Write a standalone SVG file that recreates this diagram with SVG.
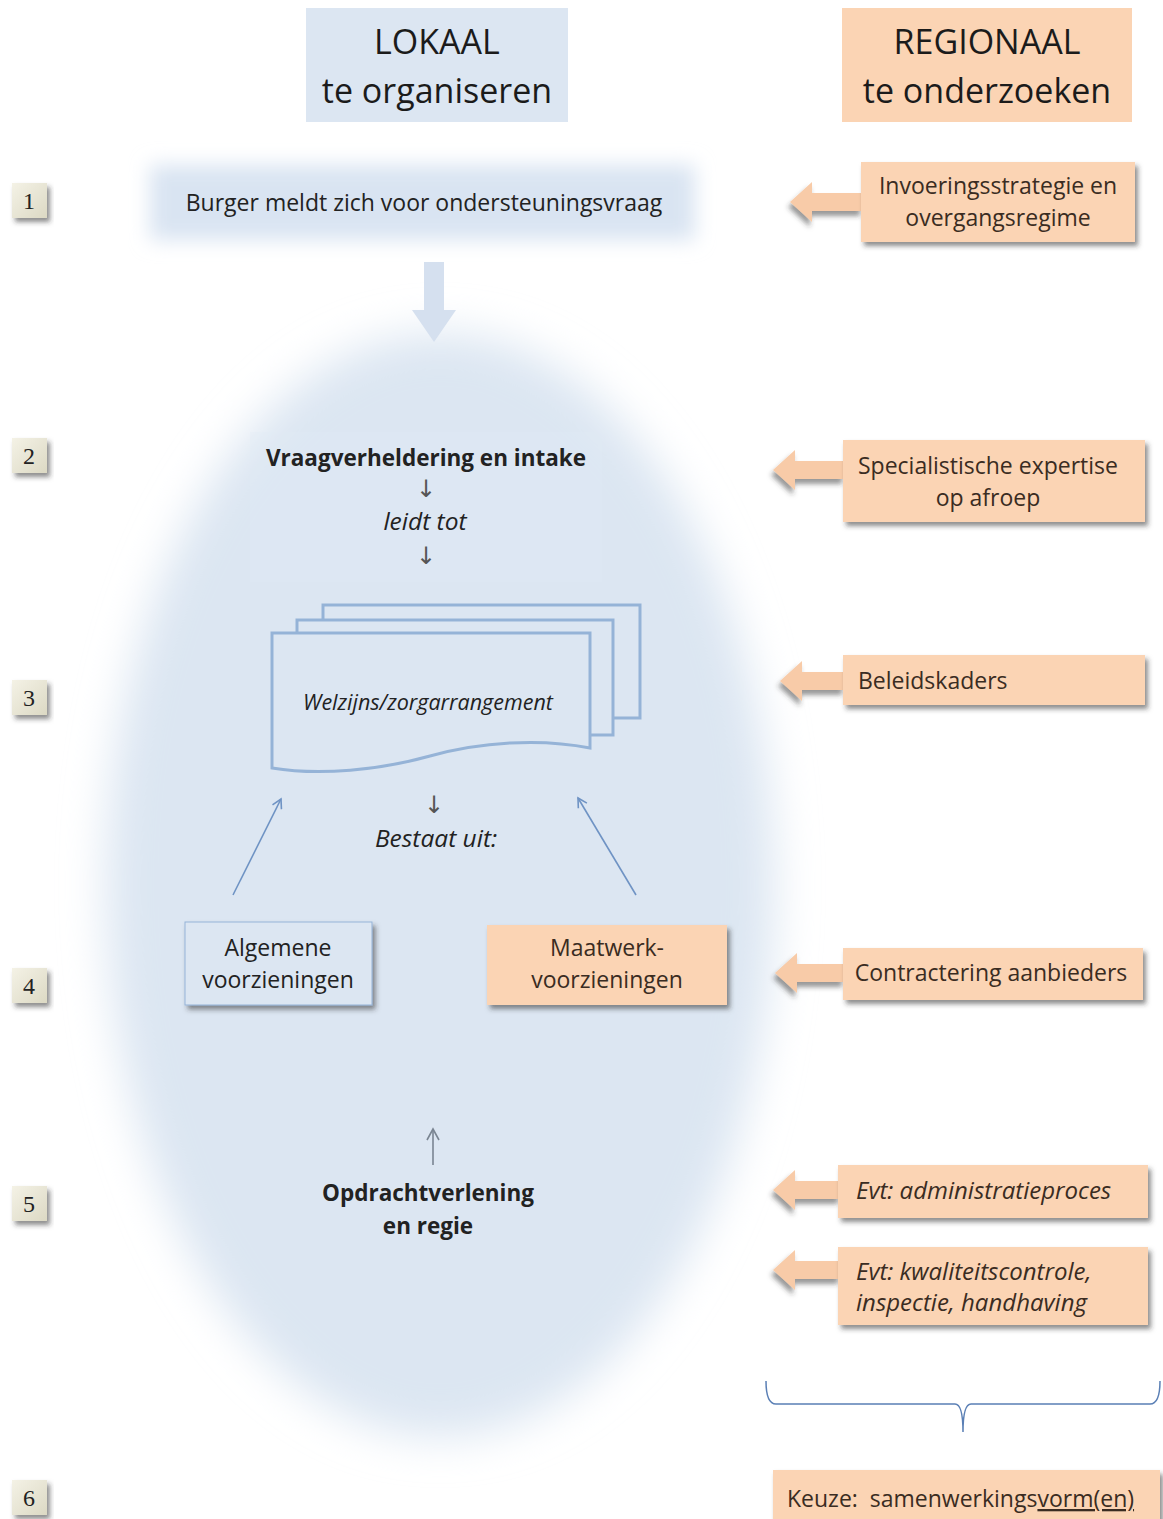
<svg xmlns="http://www.w3.org/2000/svg" width="1163" height="1519" viewBox="0 0 1163 1519">
<defs>
<style>
text{font-family:"Open Sans",Lato,"Liberation Sans",sans-serif;}
.hdr{font-size:34px;fill:#1b1b1b;text-anchor:middle;}
.t{font-size:23px;fill:#222;}
.c{text-anchor:middle;}
.b{font-weight:bold;font-size:22.5px;}
.i{font-style:italic;}
.mi{font-size:24.5px;}
.br{font-size:23px;fill:#3a2c22;}
.bri{font-size:24px;}
.ar{font-family:"DejaVu Sans",sans-serif;font-size:24px;fill:#555;text-anchor:middle;}
.num{font-family:"Liberation Serif","DejaVu Serif",serif;font-size:24px;fill:#222;text-anchor:middle;}
.peach{fill:#fbd4b4;}
.parr{fill:#f8cba8;}
.conn{stroke:#6f93c4;stroke-width:1.6;fill:none;}
</style>
<filter id="blurBig" x="-20%" y="-20%" width="140%" height="140%"><feGaussianBlur stdDeviation="22"/></filter>
<filter id="blurSm" x="-20%" y="-50%" width="140%" height="200%"><feGaussianBlur stdDeviation="10"/></filter>
<filter id="sh" x="-10%" y="-20%" width="130%" height="160%"><feDropShadow dx="3" dy="4" stdDeviation="2.5" flood-color="#333" flood-opacity="0.55"/></filter>
<filter id="shA" x="-20%" y="-30%" width="150%" height="170%"><feDropShadow dx="-2" dy="5" stdDeviation="2.5" flood-color="#333" flood-opacity="0.5"/></filter>
<linearGradient id="ng" x1="0" y1="0" x2="1" y2="1"><stop offset="0" stop-color="#f4f2e6"/><stop offset="1" stop-color="#dcd9c4"/></linearGradient>
<marker id="oh" viewBox="0 0 12 12" refX="10" refY="6" markerWidth="12" markerHeight="12" markerUnits="userSpaceOnUse" orient="auto"><path d="M1,1 L10,6 L1,11" fill="none" stroke="#6f93c4" stroke-width="1.6"/></marker>
<marker id="ohg" viewBox="0 0 14 14" refX="12" refY="7" markerWidth="14" markerHeight="14" markerUnits="userSpaceOnUse" orient="auto"><path d="M1,1 L12,7 L1,13" fill="none" stroke="#7a8592" stroke-width="1.6"/></marker>
</defs>
<rect width="1163" height="1519" fill="#ffffff"/>

<!-- background shapes -->
<ellipse cx="440" cy="885" rx="334" ry="552" fill="#dce6f2" filter="url(#blurBig)"/>
<rect x="250" y="432" width="352" height="150" fill="#e2eaf5" opacity="0.3"/>

<g id="hdr-lokaal">
<rect x="306" y="8" width="262" height="114" fill="#dce6f2"/>
<text class="hdr" x="437" y="54">LOKAAL</text>
<text class="hdr" x="437" y="103">te organiseren</text>
</g>
<g id="hdr-regionaal">
<rect x="842" y="8" width="290" height="114" class="peach"/>
<text class="hdr" x="987" y="54">REGIONAAL</text>
<text class="hdr" x="987" y="103">te onderzoeken</text>
</g>

<!-- step numbers -->
<g id="n1"><rect x="12" y="183" width="35" height="35" fill="url(#ng)" filter="url(#sh)"/><text class="num" x="29" y="209">1</text></g>
<g id="n2"><rect x="12" y="438" width="35" height="35" fill="url(#ng)" filter="url(#sh)"/><text class="num" x="29" y="464">2</text></g>
<g id="n3"><rect x="12" y="680" width="35" height="35" fill="url(#ng)" filter="url(#sh)"/><text class="num" x="29" y="706">3</text></g>
<g id="n4"><rect x="12" y="968" width="35" height="35" fill="url(#ng)" filter="url(#sh)"/><text class="num" x="29" y="994">4</text></g>
<g id="n5"><rect x="12" y="1186" width="35" height="35" fill="url(#ng)" filter="url(#sh)"/><text class="num" x="29" y="1212">5</text></g>
<g id="n6"><rect x="12" y="1480" width="35" height="35" fill="url(#ng)" filter="url(#sh)"/><text class="num" x="29" y="1506">6</text></g>

<g id="burger">
<rect x="150" y="165" width="545" height="75" fill="#d9e4f2" filter="url(#blurSm)"/>
<text class="t c" x="424" y="211">Burger meldt zich voor ondersteuningsvraag</text>
</g>

<g id="bigarrow">
<path d="M424,262 H444 V310 H456 L434,342 L412,310 H424 Z" fill="#d5e0ef"/>
</g>

<g id="intake">
<text class="t c b" x="426" y="466">Vraagverheldering en intake</text>
<text class="ar" x="426" y="497">↓</text>
<text class="t c i mi" x="425" y="530">leidt tot</text>
<text class="ar" x="426" y="564">↓</text>
</g>

<g id="arrangement" fill="#dce6f2" stroke="#95b3d7" stroke-width="3">
<rect x="323" y="605" width="317" height="113"/>
<rect x="297" y="620" width="316" height="115"/>
<path d="M272,633 H590 V748 C540,738 480,742 430,756 C380,770 320,776 272,768 Z"/>
<text class="t c i" x="428" y="710" stroke="none" fill="#222" style="font-size:21.5px">Welzijns/zorgarrangement</text>
</g>

<g id="bestaat">
<text class="ar" x="434" y="813">↓</text>
<text class="t c i mi" x="436" y="847">Bestaat uit:</text>
</g>

<g id="algemeen">
<rect x="185" y="922" width="187" height="83" fill="#dce6f2" stroke="#95b3d7" stroke-width="1" filter="url(#sh)"/>
<text class="t c" x="278" y="956">Algemene</text>
<text class="t c" x="278" y="988">voorzieningen</text>
</g>
<g id="maatwerk">
<rect x="487" y="925" width="240" height="80" class="peach" filter="url(#sh)"/>
<text class="br c" x="607" y="956">Maatwerk-</text>
<text class="br c" x="607" y="988">voorzieningen</text>
</g>

<g id="opdracht">
<text class="t c b" x="428" y="1201">Opdrachtverlening</text>
<text class="t c b" x="428" y="1234">en regie</text>
</g>

<!-- regional items -->
<g id="r1">
<path class="parr" d="M790,202 L812,182 V193 H862 V211 H812 V222 Z" filter="url(#shA)"/>
<rect x="861" y="162" width="274" height="80" class="peach" filter="url(#sh)"/>
<text class="br c" x="998" y="194">Invoeringsstrategie en</text>
<text class="br c" x="998" y="226">overgangsregime</text>
</g>
<g id="r2">
<path class="parr" d="M773,470 L795,450 V461 H844 V479 H795 V490 Z" filter="url(#shA)"/>
<rect x="843" y="440" width="302" height="82" class="peach" filter="url(#sh)"/>
<text class="br c" x="988" y="474">Specialistische expertise</text>
<text class="br c" x="988" y="506">op afroep</text>
</g>
<g id="r3">
<path class="parr" d="M780,681 L802,661 V672 H844 V690 H802 V701 Z" filter="url(#shA)"/>
<rect x="843" y="655" width="302" height="50" class="peach" filter="url(#sh)"/>
<text class="br" x="858" y="689">Beleidskaders</text>
</g>
<g id="r4">
<path class="parr" d="M775,973 L797,953 V964 H844 V982 H797 V993 Z" filter="url(#shA)"/>
<rect x="843" y="948" width="300" height="52" class="peach" filter="url(#sh)"/>
<text class="br c" x="991" y="981">Contractering aanbieders</text>
</g>
<g id="r5">
<path class="parr" d="M773,1190 L795,1170 V1181 H840 V1199 H795 V1210 Z" filter="url(#shA)"/>
<rect x="838" y="1165" width="310" height="53" class="peach" filter="url(#sh)"/>
<text class="br i bri" x="856" y="1199">Evt: administratieproces</text>
</g>
<g id="r6">
<path class="parr" d="M773,1270 L795,1250 V1261 H840 V1279 H795 V1290 Z" filter="url(#shA)"/>
<rect x="838" y="1247" width="310" height="78" class="peach" filter="url(#sh)"/>
<text class="br i bri" x="856" y="1280">Evt: kwaliteitscontrole,</text>
<text class="br i bri" x="856" y="1311">inspectie, handhaving</text>
</g>

<g id="brace">
<path d="M766,1381 Q766,1404 776,1404 H955 Q963,1404 963,1432 Q963,1404 971,1404 H1150 Q1160,1404 1160,1381" fill="none" stroke="#5a7fb5" stroke-width="1.5"/>
</g>

<g id="keuze">
<rect x="773" y="1470" width="387" height="52" class="peach" filter="url(#sh)"/>
<text class="br" x="787" y="1507">Keuze:&#160; samenwerkings<tspan text-decoration="underline">vorm(en)</tspan></text>
</g>

<g id="connectors">
<line class="conn" x1="233" y1="895" x2="281" y2="799" marker-end="url(#oh)"/>
<line class="conn" x1="636" y1="895" x2="578" y2="798" marker-end="url(#oh)"/>
<line x1="433" y1="1165" x2="433" y2="1129" stroke="#7a8592" stroke-width="1.6" marker-end="url(#ohg)"/>
</g>
</svg>
